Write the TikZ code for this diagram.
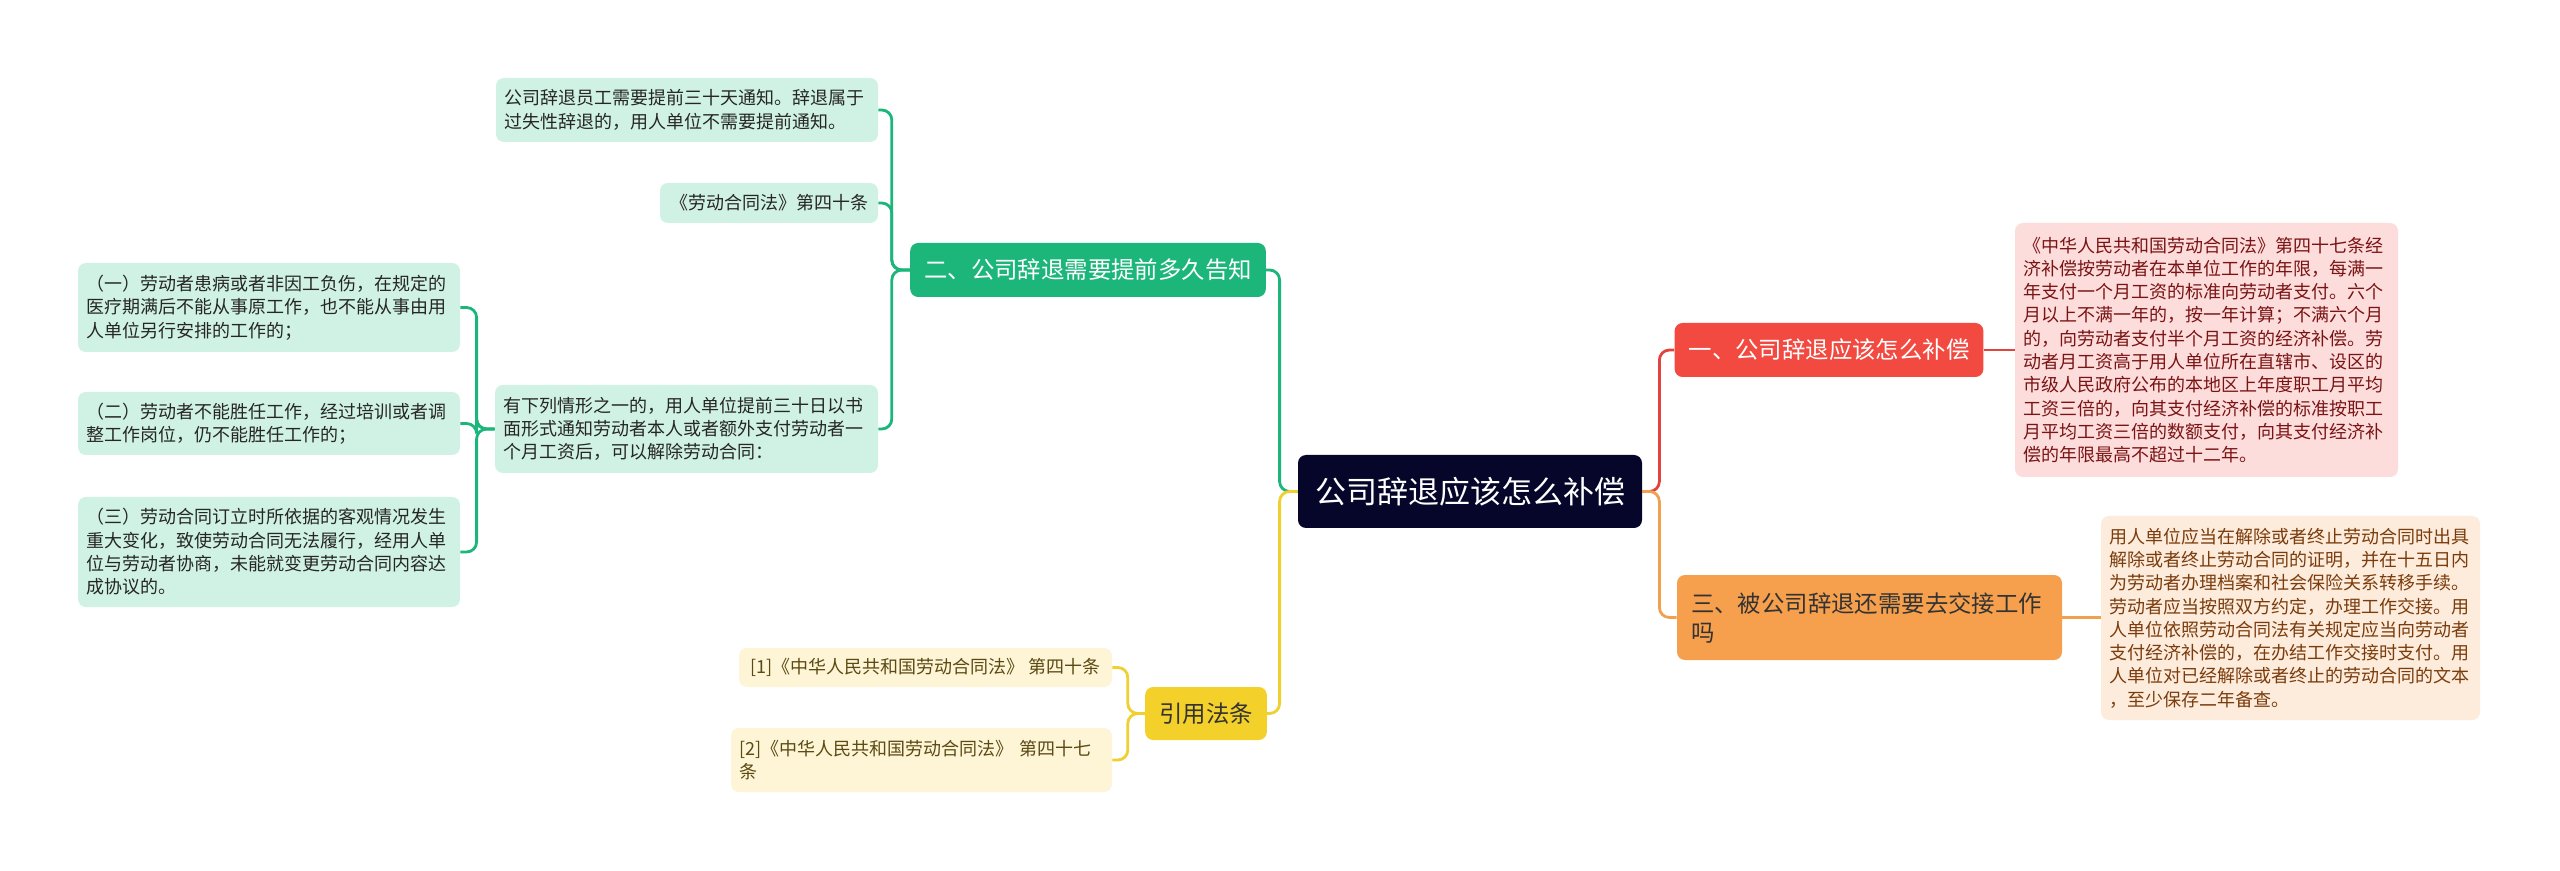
\documentclass[tikz,border=0pt]{standalone}
\usepackage{fontspec}
\setmainfont{Noto Sans CJK SC}
\usepackage{tikz}

\definecolor{rootbg}{HTML}{06062B}
\definecolor{grn}{HTML}{1CB67B}
\definecolor{grnlt}{HTML}{D0F2E4}
\definecolor{redbr}{HTML}{F24A40}
\definecolor{redln}{HTML}{E0443C}
\definecolor{redlt}{HTML}{FDDCDC}
\definecolor{redtx}{HTML}{7A1414}
\definecolor{orgbr}{HTML}{F6A04D}
\definecolor{orgln}{HTML}{F0A050}
\definecolor{orglt}{HTML}{FDEBDB}
\definecolor{orgtx}{HTML}{7A3C0C}
\definecolor{yelbr}{HTML}{F3D02A}
\definecolor{yelln}{HTML}{F0D030}
\definecolor{yellt}{HTML}{FDF5D5}
\definecolor{yeltx}{HTML}{5C4A14}

\begin{document}
\begin{tikzpicture}[x=0.5pt,y=-0.5pt,
		box/.style={rounded corners=4pt, inner ysep=0pt},
		leaf/.style={box, align=left, inner xsep=4pt, font=\fontsize{9}{11.65}\selectfont},
		sec/.style={box, inner xsep=7pt, font=\fontsize{11.7}{14.5}\selectfont},
		conn/.style={line width=1.4pt, rounded corners=5pt}]
	\useasboundingbox[fill=white] (0,0) rectangle (2560,871);

	\node[box, fill=rootbg, text=white, minimum width=172pt, minimum height=36.5pt, font=\fontsize{15.5}{18}\selectfont] (root) at (1470,491.5) {公司辞退应该怎么补偿};

	\node[sec, fill=redbr, text=white, minimum width=152pt, minimum height=27pt] (sec1) at (1829,350) {一、公司辞退应该怎么补偿};
	\node[sec, fill=grn, text=white, minimum width=175pt, minimum height=27pt] (sec2) at (1088,270) {二、公司辞退需要提前多久告知};
	\node[sec, fill=orgbr, text=black!80, align=left, text width=178.5pt, minimum height=42.5pt] (sec3) at (1869.5,617.5) {三、被公司辞退还需要去交接工作\\吗};
	\node[sec, fill=yelbr, text=black!80, minimum width=58pt, minimum height=26.5pt] (refs) at (1206,713.5) {引用法条};

	\node[leaf, fill=redlt, text=redtx, text width=183.5pt, minimum height=127pt] (sec1txt) at (2206.5,350) {《中华人民共和国劳动合同法》第四十七条经\\济补偿按劳动者在本单位工作的年限，每满一\\年支付一个月工资的标准向劳动者支付。六个\\月以上不满一年的，按一年计算；不满六个月\\的，向劳动者支付半个月工资的经济补偿。劳\\动者月工资高于用人单位所在直辖市、设区的\\市级人民政府公布的本地区上年度职工月平均\\工资三倍的，向其支付经济补偿的标准按职工\\月平均工资三倍的数额支付，向其支付经济补\\偿的年限最高不超过十二年。};
	\node[leaf, fill=orglt, text=orgtx, text width=181.5pt, minimum height=102pt] (sec3txt) at (2290.5,618) {用人单位应当在解除或者终止劳动合同时出具\\解除或者终止劳动合同的证明，并在十五日内\\为劳动者办理档案和社会保险关系转移手续。\\劳动者应当按照双方约定，办理工作交接。用\\人单位依照劳动合同法有关规定应当向劳动者\\支付经济补偿的，在办结工作交接时支付。用\\人单位对已经解除或者终止的劳动合同的文本\\，至少保存二年备查。};

	\node[leaf, fill=grnlt, text=black!85, text width=183pt, minimum height=32pt] (sec2a) at (687,110) {公司辞退员工需要提前三十天通知。辞退属于\\过失性辞退的，用人单位不需要提前通知。};
	\node[leaf, fill=grnlt, text=black!85, minimum width=109pt, minimum height=20pt] (sec2b) at (769,203) {《劳动合同法》第四十条};
	\node[leaf, fill=grnlt, text=black!85, text width=183.5pt, minimum height=44pt] (sec2c) at (686.5,429) {有下列情形之一的，用人单位提前三十日以书\\面形式通知劳动者本人或者额外支付劳动者一\\个月工资后，可以解除劳动合同：};

	\node[leaf, fill=grnlt, text=black!85, text width=183pt, minimum height=44.5pt] (case1) at (269,307.5) {（一）劳动者患病或者非因工负伤，在规定的\\医疗期满后不能从事原工作，也不能从事由用\\人单位另行安排的工作的；};
	\node[leaf, fill=grnlt, text=black!85, text width=183pt, minimum height=31.5pt] (case2) at (269,423.5) {（二）劳动者不能胜任工作，经过培训或者调\\整工作岗位，仍不能胜任工作的；};
	\node[leaf, fill=grnlt, text=black!85, text width=183pt, minimum height=55pt] (case3) at (269,552) {（三）劳动合同订立时所依据的客观情况发生\\重大变化，致使劳动合同无法履行，经用人单\\位与劳动者协商，未能就变更劳动合同内容达\\成协议的。};

	\node[leaf, fill=yellt, text=yeltx, minimum width=186.5pt, minimum height=19.5pt] (ref1) at (925.5,667.5) {[1]《中华人民共和国劳动合同法》 第四十条};
	\node[leaf, fill=yellt, text=yeltx, text width=182.5pt, minimum height=32pt] (ref2) at (921.5,760) {[2]《中华人民共和国劳动合同法》 第四十七\\条};

	\draw[conn, grn] (root.west) -- ++(-18,0) |- (sec2.east);
	\draw[conn, yelln] (root.west) -- ++(-18,0) |- (refs.east);
	\draw[conn, redln] (root.east) -- ++(17,0) |- (sec1.west);
	\draw[conn, orgln] (root.east) -- ++(17,0) |- (sec3.west);
	\draw[conn, redln] (sec1.east) -- (sec1txt.west);
	\draw[conn, orgln] (sec3.east) -- (sec3.east -| sec3txt.west);
	\draw[conn, grn] (sec2.west) -- ++(-18,0) |- (sec2a.east);
	\draw[conn, grn] (sec2.west) -- ++(-18,0) |- (sec2b.east);
	\draw[conn, grn] (sec2.west) -- ++(-18,0) |- (sec2c.east);
	\draw[conn, grn] (sec2c.west) -- ++(-18,0) |- (case1.east);
	\draw[conn, grn] (sec2c.west) -- ++(-18,0) |- (case2.east);
	\draw[conn, grn] (sec2c.west) -- ++(-18,0) |- (case3.east);
	\draw[conn, yelln] (refs.west) -- ++(-17,0) |- (ref1.east);
	\draw[conn, yelln] (refs.west) -- ++(-17,0) |- (ref2.east);
\end{tikzpicture}
\end{document}
